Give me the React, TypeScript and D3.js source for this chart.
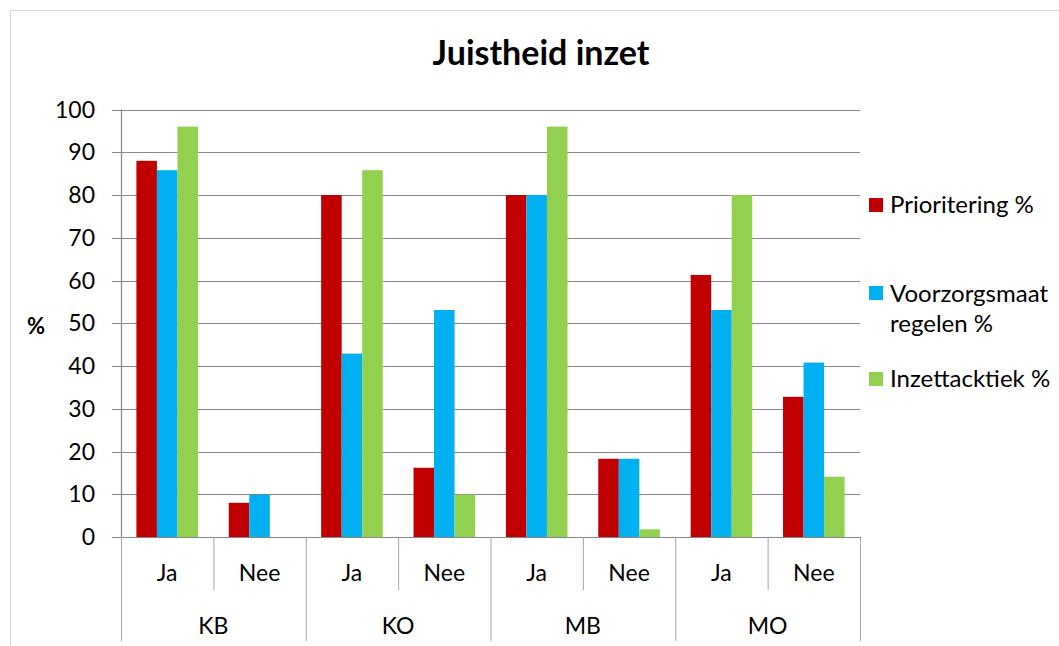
import React from "react";
import * as d3 from "d3";

const groups = ["KB", "KO", "MB", "MO"];
const answers = ["Ja", "Nee"];
const seriesNames = ["Prioritering %", "Voorzorgsmaat regelen %", "Inzettacktiek %"];
const seriesColors = ["#C00000", "#00B0F0", "#92D050"];
const prioritering = [88, 8, 80, 16.2, 80, 18.3, 61.3, 32.8];
const voorzorgsmaat = [85.8, 9.9, 42.9, 53.1, 80, 18.3, 53.1, 40.8];
const inzettacktiek = [96, 0, 85.8, 9.9, 96, 1.8, 80, 14.1];
const yTicks = [0, 10, 20, 30, 40, 50, 60, 70, 80, 90, 100];

const W = 1059, H = 646;
const left = 121, right = 860, top = 109.5, bottom = 537;
const FONT = "Lato, 'Open Sans', sans-serif";

export default function App() {
  const cats = groups.flatMap((g) => answers.map((a) => `${g}-${a}`));
  const x = d3.scaleBand().domain(cats).range([left, right]).paddingInner(0).paddingOuter(0);
  const bw = x.bandwidth();
  const barW = bw / 4.5;
  const inner = d3.scaleBand().domain(["0", "1", "2"]).range([(bw - 3 * barW) / 2, (bw + 3 * barW) / 2]);
  const y = d3.scaleLinear().domain([0, 100]).range([bottom, top]);
  const series = [prioritering, voorzorgsmaat, inzettacktiek];
  const gridColor = "#888888";

  const legendItems = [
    { i: 0, lines: ["Prioritering %"], sq: 198, base: 213 },
    { i: 1, lines: ["Voorzorgsmaat", "regelen %"], sq: 286, base: 302 },
    { i: 2, lines: ["Inzettacktiek %"], sq: 372, base: 387 },
  ];

  return (
    <svg width={W} height={H} style={{ position: "absolute", left: 0, top: 0, background: "#fff" }}>
      <rect x={10.5} y={10.5} width={W + 20} height={H + 20} fill="#fff" stroke="#d9d9d9" strokeWidth={1} />
      <text x={541} y={65} textAnchor="middle" fontFamily={FONT} fontWeight="bold" fontSize={34} fill="#000">
        Juistheid inzet
      </text>
      {yTicks.map((t) => (
        <g key={t}>
          <line x1={112} x2={right} y1={Math.round(y(t)) + 0.5} y2={Math.round(y(t)) + 0.5} stroke={gridColor} strokeWidth={1.2} />
          <text x={95} y={y(t) + 8} textAnchor="end" fontFamily={FONT} fontSize={23} fill="#000">{t}</text>
        </g>
      ))}
      <text x={36} y={334} textAnchor="middle" fontFamily={FONT} fontWeight="bold" fontSize={22} fill="#000">%</text>
      {series.map((vals, si) =>
        vals.map((v, ci) => (
          <rect key={`${si}-${ci}`} x={(x(cats[ci]) as number) + (inner(String(si)) as number)} y={y(v)} width={barW} height={y(0) - y(v)} fill={seriesColors[si]} />
        ))
      )}
      <line x1={left + 0.5} x2={left + 0.5} y1={top} y2={bottom} stroke={gridColor} strokeWidth={1.2} />
      {cats.map((c, i) => {
        const x0 = x(c) as number;
        const isGroupStart = i % 2 === 0;
        return (
          <g key={c}>
            <line x1={x0 + 0.5} x2={x0 + 0.5} y1={bottom} y2={isGroupStart ? 641 : 590} stroke="#a6a6a6" strokeWidth={1} />
            <text x={x0 + bw / 2} y={581} textAnchor="middle" fontFamily={FONT} fontSize={23} fill="#000">{answers[i % 2]}</text>
          </g>
        );
      })}
      <line x1={right + 0.5} x2={right + 0.5} y1={bottom} y2={641} stroke="#a6a6a6" strokeWidth={1} />
      {groups.map((g, gi) => (
        <text key={g} x={(x(cats[gi * 2]) as number) + bw} y={634} textAnchor="middle" fontFamily={FONT} fontSize={23} fill="#000">{g}</text>
      ))}
      {legendItems.map((l) => (
        <g key={l.i}>
          <rect x={869} y={l.sq} width={14} height={14} fill={seriesColors[l.i]} />
          {l.lines.map((t, k) => (
            <text key={k} x={890} y={l.base + k * 30} fontFamily={FONT} fontSize={24} fill="#000">{t}</text>
          ))}
        </g>
      ))}
    </svg>
  );
}
